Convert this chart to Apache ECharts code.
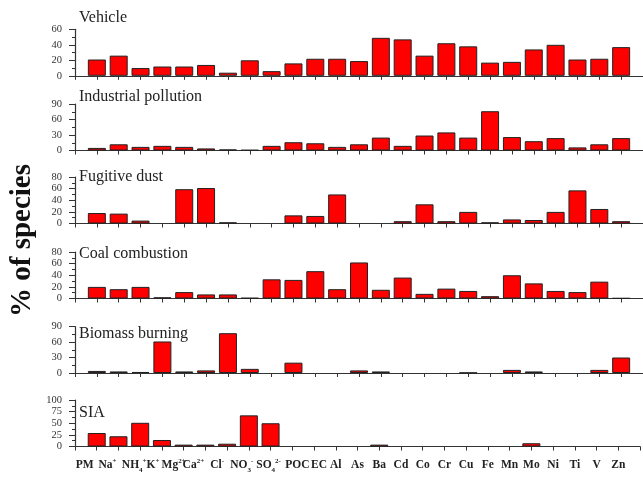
<!DOCTYPE html>
<html>
<head>
<meta charset="utf-8">
<script src="https://cdn.jsdelivr.net/npm/echarts@6/dist/echarts.min.js"></script>
<style>
html,body{margin:0;padding:0;background:#fff;}
#chart{width:643px;height:477px;}
</style>
</head>
<body>
<div id="chart"></div>
<script>
// Categories (species)
const categories = ['PM','Na+','NH4+','K+','Mg2+','Ca2+','Cl-','NO3-','SO42-','POC','EC','Al','As','Ba','Cd','Co','Cr','Cu','Fe','Mn','Mo','Ni','Ti','V','Zn'];
// Tick labels with sub/superscripts (rich text)
const tickLabels = ['PM','Na{sp|+}','NH{sb|4}{sp|+}','K{sp|+}','Mg{sp|2+}','Ca{sp|2+}','Cl{sp|-}','NO{sb|3}{sp|-}','SO{sb|4}{sp|2-}','POC','EC','Al','As','Ba','Cd','Co','Cr','Cu','Fe','Mn','Mo','Ni','Ti','V','Zn'];
// Small horizontal label nudges (styling only, px) to mimic the original hand-set label row
const labelNudge = [-12,-11,-6,-9,-10,-12,-10,-7,-2,5,5,0,0,0,0,0,0,0,0,0,0,0,0,0,0];

// Panel names
const panelNames = ['Vehicle','Industrial pollution','Fugitive dust','Coal combustion','Biomass burning','SIA'];

// Source profiles (% of species)
const vehicle    = [21,26,10,12,12,14,4,20,6,16,22,22,19,49,47,26,42,38,17,18,34,40,21,22,37];
const industrial = [5,12,7,9,7,4,2,1,9,16,14,7,12,25,9,29,35,25,76,26,18,24,6,12,24];
const fugitive   = [18,17,5,0,59,61,2,0,0,14,13,50,0,0,4,33,4,20,2,7,6,20,57,25,4];
const coal       = [20,16,20,2,11,7,7,1,33,32,47,16,62,15,36,8,17,13,4,40,26,13,11,29,0.5];
const biomass    = [4,3,2,61,3,5,77,8,0,20,0,0,5,3,0,0,0,0.5,0,6,3,0,0,6,30];
const sia        = [29,22,51,14,4,4,6,67,50,0,0,0,0,4,0,0,0,0,0,0,7,0,0,0,0];

// Y axis ranges per panel
const yMax      = [60,90,80,80,90,100];
const yInterval = [20,30,20,20,30,25];

const seriesData = [vehicle, industrial, fugitive, coal, biomass, sia];

const serif = '"Liberation Serif","Times New Roman",serif';
const panelTops = [29.3, 104, 177, 252, 326.5, 400];
const panelH = 46.5;
const titleY = [17.5, 96.5, 177, 254, 334, 413];

const chart = echarts.init(document.getElementById('chart'), null, {renderer:'canvas'});

const richStyles = {
  b:  {fontFamily: serif, fontWeight: 'bold', fontSize: 11.5, color: '#222', lineHeight: 16, verticalAlign: 'middle'},
  sp: {fontFamily: serif, fontWeight: 'bold', fontSize: 7, color: '#222', lineHeight: 8, verticalAlign: 'top'},
  sb: {fontFamily: serif, fontWeight: 'bold', fontSize: 7, color: '#222', lineHeight: 8, verticalAlign: 'bottom'}
};
for (let n = 1; n <= 30; n++) richStyles['w' + n] = {width: n, fontSize: 2, lineHeight: 16};

const grids = [], xAxes = [], yAxes = [], series = [], graphics = [];
seriesData.forEach((vals, i) => {
  grids.push({left: 75, top: panelTops[i], width: 577, height: panelH});
  const isLast = i === seriesData.length - 1;
  xAxes.push({
    type: 'value', gridIndex: i, min: 0, max: 26, interval: 1,
    axisLine: {show: true, lineStyle: {color: '#333', width: 1.2}},
    axisTick: {show: true, length: 4, lineStyle: {color: '#333', width: 1}},
    splitLine: {show: false},
    axisLabel: {
      show: isLast, margin: 11, hideOverlap: false,
      showMinLabel: true, showMaxLabel: true,
      formatter: function (v) {
        const k = Math.round(v);
        if (k >= 1 && k <= tickLabels.length) {
          let s = '{b|' + tickLabels[k - 1].replace(/\{(sp|sb)\|([^}]*)\}/g, '}{$1|$2}{b|') + '}';
          const d = labelNudge[k - 1];
          if (d < 0) s = s + '{w' + (-2 * d) + '| }';
          else if (d > 0) s = '{w' + (2 * d) + '| }' + s;
          return s;
        }
        return '';
      },
      rich: richStyles
    }
  });
  yAxes.push({
    type: 'value', gridIndex: i, min: 0, max: yMax[i], interval: yInterval[i],
    axisLine: {show: true, lineStyle: {color: '#333', width: 1.2}},
    axisTick: {show: true, length: 6, lineStyle: {color: '#333', width: 1}},
    minorTick: {show: true, splitNumber: 2, length: 3, lineStyle: {color: '#333', width: 1}},
    splitLine: {show: false},
    axisLabel: {fontFamily: serif, fontSize: 10.5, lineHeight: 9, color: '#333', margin: 13,
      hideOverlap: false, showMinLabel: true, showMaxLabel: true}
  });
  series.push({
    type: 'bar', xAxisIndex: i, yAxisIndex: i,
    barWidth: 18,
    itemStyle: {color: '#ff0000', borderColor: '#222', borderWidth: 1},
    data: vals.map((v, k) => [k + 1, v === 0 ? null : v]),
    animation: false
  });
  graphics.push({
    type: 'text', x: 79, y: titleY[i],
    style: {text: panelNames[i], font: '16px ' + serif, fill: '#222', textVerticalAlign: 'middle', verticalAlign: 'middle'}
  });
});

graphics.push({
  type: 'text', x: 23, y: 240.5, rotation: Math.PI / 2,
  style: {text: '% of species', font: 'bold 29px ' + serif, fill: '#111', textAlign: 'center', align: 'center', textVerticalAlign: 'middle', verticalAlign: 'middle'}
});

chart.setOption({
  backgroundColor: '#fff',
  animation: false,
  grid: grids,
  xAxis: xAxes,
  yAxis: yAxes,
  series: series,
  graphic: graphics
});
</script>
</body>
</html>
